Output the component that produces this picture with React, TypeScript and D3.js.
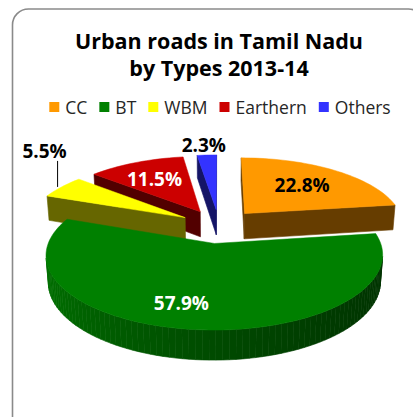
import { useEffect, useRef } from "react";
import * as d3 from "d3";

const categories = ["CC", "BT", "WBM", "Earthern", "Others"];
const shares = [22.8, 57.9, 5.5, 11.5, 2.3];
const titleLines = ["Urban roads in Tamil Nadu", "by Types 2013-14"];
const sliceColors = ["#ff9900", "#008000", "#ffff00", "#cc0000", "#3333ff"];
const labelColors = ["#000000", "#ffffff", "#000000", "#ffffff", "#000000"];

const W = 413;
const H = 417;
const font = "'Open Sans', 'DejaVu Sans', sans-serif";

// 3d look of the pie
const cx = 219;
const cy = 226;
const R = 160;
const tilt = (25 * Math.PI) / 180;
const camDist = 6;
const thick = 0.18;
const explode = 0.25;

// where each label sits (radius on the top face, then a nudge in px)
const labelPlace = [
  { r: 0.62, dx: 0, dy: 0, leader: false },
  { r: 0.62, dx: -20, dy: 10, leader: false },
  { r: 1.0, dx: -17, dy: -36, leader: true },
  { r: 0.62, dx: -4, dy: 0, leader: false },
  { r: 1.0, dx: -3, dy: -10, leader: false },
];

function project(X: number, Y: number, Z: number): [number, number] {
  const yv = Y * Math.cos(tilt) + Z * Math.sin(tilt);
  const depth = Z * Math.cos(tilt) - Y * Math.sin(tilt);
  const s = camDist / (camDist + depth);
  return [cx + R * X * s, cy - R * yv * s];
}

function area(pts: [number, number][]) {
  let a = 0;
  for (let i = 0; i < pts.length; i++) {
    const [x1, y1] = pts[i];
    const [x2, y2] = pts[(i + 1) % pts.length];
    a += x1 * y2 - x2 * y1;
  }
  return a / 2;
}

const App = () => {
  const svgRef = useRef<SVGSVGElement | null>(null);

  useEffect(() => {
    if (!svgRef.current) return;
    document.body.style.margin = "0";
    const svg = d3.select(svgRef.current);
    svg.selectAll("*").remove();

    // frame
    svg.append("rect")
      .attr("x", 12.5)
      .attr("y", 9)
      .attr("width", 412)
      .attr("height", 424)
      .attr("rx", 16)
      .attr("fill", "#ffffff")
      .attr("stroke", "#8a8a8a")
      .attr("stroke-width", 1.6);

    // title
    svg.append("g")
      .attr("text-anchor", "middle")
      .attr("font-family", font)
      .attr("font-weight", "bold")
      .attr("font-size", 21.5)
      .attr("fill", "#000")
      .selectAll("text")
      .data(titleLines)
      .enter()
      .append("text")
      .attr("x", 219)
      .attr("y", (_, i) => 48.5 + i * 27)
      .text(d => d);

    // legend
    const legend = svg.append("g").attr("font-family", font).attr("font-size", 17.5);
    const items = legend.selectAll("g").data(categories).enter().append("g");
    items.append("rect")
      .attr("width", 10)
      .attr("height", 10)
      .attr("y", 102)
      .attr("fill", (_, i) => sliceColors[i]);
    items.append("text")
      .attr("x", 16)
      .attr("y", 113.5)
      .attr("fill", "#262626")
      .text(d => d);
    const widths: number[] = [];
    items.each(function () {
      const t = d3.select(this).select("text").node() as SVGTextElement;
      widths.push(16 + t.getComputedTextLength());
    });
    const gap = 12;
    const total = d3.sum(widths) + gap * (widths.length - 1);
    let lx = 220 - total / 2;
    items.attr("transform", (_, i) => {
      const x = lx;
      lx += widths[i] + gap;
      return `translate(${x},0)`;
    });

    // pie
    const arcs = d3.pie<number>().sort(null).value(d => d)(shares);
    const slices = arcs.map((a, i) => {
      const mid = (a.startAngle + a.endAngle) / 2;
      return { ...a, i, mid, ox: explode * Math.sin(mid), oz: explode * Math.cos(mid) };
    });
    const order = [...slices].sort((a, b) => Math.cos(b.mid) - Math.cos(a.mid));
    const line = d3.line();
    const pieG = svg.append("g");

    order.forEach(s => {
      const g = pieG.append("g");
      const rim = (th: number, Y: number, r = 1) =>
        project(s.ox + r * Math.sin(th), Y, s.oz + r * Math.cos(th));
      const apexT = project(s.ox, 0, s.oz);
      const apexB = project(s.ox, -thick, s.oz);
      const n = Math.max(2, Math.ceil((s.endAngle - s.startAngle) / (Math.PI / 90)));
      const angles = d3.range(n + 1).map(k => s.startAngle + ((s.endAngle - s.startAngle) * k) / n);
      const base = d3.color(sliceColors[s.i])!;
      const faceColor = base.darker(2.57).formatHex();

      const faces: { pts: [number, number][]; fill: string }[] = [];
      faces.push({ pts: [apexT, rim(s.startAngle, 0), rim(s.startAngle, -thick), apexB], fill: faceColor });
      faces.push({ pts: [rim(s.endAngle, 0), apexT, apexB, rim(s.endAngle, -thick)], fill: faceColor });
      for (let k = 0; k < n; k++) {
        const a0 = angles[k];
        const a1 = angles[k + 1];
        const m = (a0 + a1) / 2;
        const shade = 0.4 + 2.2 * ((Math.sin(m) + 1) / 2);
        faces.push({
          pts: [rim(a0, 0), rim(a1, 0), rim(a1, -thick), rim(a0, -thick)],
          fill: base.darker(shade).formatHex(),
        });
      }
      faces
        .filter(f => area(f.pts) < 0)
        .forEach(f => {
          g.append("path")
            .attr("d", line(f.pts) + "Z")
            .attr("fill", f.fill)
            .attr("stroke", f.fill)
            .attr("stroke-width", 0.6);
        });

      const topPts: [number, number][] = [apexT, ...angles.map(a => rim(a, 0))];
      g.append("path")
        .attr("d", line(topPts) + "Z")
        .attr("fill", sliceColors[s.i])
        .attr("stroke", sliceColors[s.i])
        .attr("stroke-width", 0.5);
    });

    // labels
    const labels = svg.append("g")
      .attr("font-family", font)
      .attr("font-weight", "bold")
      .attr("font-size", 19)
      .attr("text-anchor", "middle");
    slices.forEach(s => {
      const p = labelPlace[s.i];
      const [ax, ay] = project(s.ox + p.r * Math.sin(s.mid), 0, s.oz + p.r * Math.cos(s.mid));
      if (p.leader) {
        labels.append("line")
          .attr("x1", ax - 4)
          .attr("x2", ax - 4)
          .attr("y1", ay)
          .attr("y2", ay - 26)
          .attr("stroke", "#000")
          .attr("stroke-width", 1);
      }
      labels.append("text")
        .attr("x", ax + p.dx)
        .attr("y", ay + p.dy)
        .attr("dy", "0.35em")
        .attr("fill", labelColors[s.i])
        .text(`${shares[s.i].toFixed(1)}%`);
    });
  }, []);

  return <svg ref={svgRef} width={W} height={H} style={{ display: "block" }} />;
};

export default App;
